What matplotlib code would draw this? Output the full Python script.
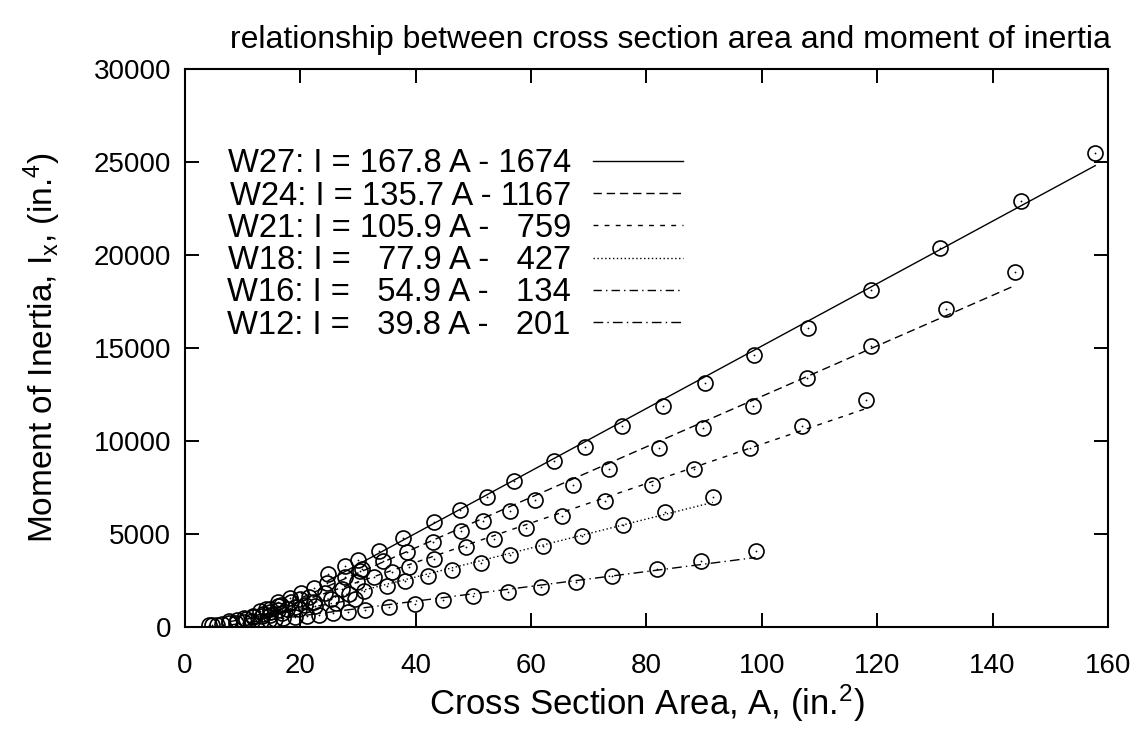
import matplotlib
matplotlib.use('Agg')
import matplotlib.pyplot as plt
from matplotlib.lines import Line2D

plt.rcParams['font.family'] = ['Liberation Sans', 'DejaVu Sans']
plt.rcParams['mathtext.default'] = 'regular'

# --- data: cross section area A (in.^2) and moment of inertia Ix (in.^4) ---
w27_A = [157.8, 144.9, 130.9, 119.0, 108.0, 98.7, 90.2, 82.8, 75.7, 69.4, 63.9, 57.1, 52.3, 47.6, 43.2, 37.8, 33.6, 30.0, 27.7, 24.8]
w27_I = [25500, 22900, 20400, 18100, 16100, 14600, 13100, 11900, 10800, 9700, 8900, 7860, 7000, 6280, 5630, 4760, 4080, 3620, 3270, 2850]

w24_A = [143.8, 131.9, 119.0, 107.9, 98.4, 89.8, 82.1, 73.5, 67.2, 60.7, 56.3, 51.7, 47.8, 43.0, 38.5, 34.4, 30.6, 30.3, 27.7, 24.7, 22.4, 20.1, 18.2, 16.2]
w24_I = [19100, 17100, 15100, 13400, 11900, 10700, 9600, 8490, 7650, 6820, 6260, 5680, 5170, 4580, 4020, 3540, 3100, 3000, 2700, 2370, 2100, 1830, 1550, 1350]

w21_A = [118.0, 106.9, 97.9, 88.2, 80.9, 72.8, 65.4, 59.2, 53.6, 48.8, 43.2, 38.8, 35.9, 32.7, 29.8, 27.3, 24.3, 21.5, 20.0, 18.3, 16.7, 16.2, 14.7, 14.1, 13.0]
w21_I = [12200, 10800, 9610, 8480, 7620, 6760, 5950, 5310, 4730, 4280, 3630, 3220, 2960, 2670, 2420, 2070, 1830, 1600, 1480, 1330, 1170, 1140, 984, 959, 843]

w18_A = [91.5, 83.2, 75.9, 68.8, 62.1, 56.4, 51.3, 46.3, 42.1, 38.2, 35.1, 31.1, 28.5, 25.3, 22.3, 20.8, 19.1, 17.6, 16.2, 14.7, 13.5, 11.8, 10.3]
w18_I = [6970, 6170, 5510, 4900, 4330, 3870, 3450, 3060, 2750, 2460, 2190, 1910, 1750, 1530, 1330, 1170, 1070, 984, 890, 800, 712, 612, 510]

w16_A = [29.4, 26.2, 22.6, 19.7, 16.8, 14.7, 13.3, 11.8, 10.6, 9.1, 7.7]
w16_I = [1490, 1300, 1110, 954, 758, 659, 586, 518, 448, 375, 301]

w12_A = [98.9, 89.5, 81.9, 74.1, 67.7, 61.8, 56.0, 50.0, 44.7, 39.9, 35.3, 31.2, 28.2, 25.6, 23.2, 21.1, 19.1, 17.0, 15.6, 14.6, 13.1, 11.7, 10.3, 8.8, 7.7, 6.5, 5.6, 4.7, 4.2]
w12_I = [4060, 3550, 3110, 2720, 2420, 2140, 1890, 1650, 1430, 1240, 1070, 933, 833, 740, 662, 597, 533, 475, 425, 391, 348, 307, 285, 238, 204, 156, 130, 103, 89]

# linear fits I = a*A - b, from the legend
fit_a = [167.8, 135.7, 105.9, 77.9, 54.9, 39.8]
fit_b = [1674, 1167, 759, 427, 134, 201]
fit_labels = ['W27: I = 167.8 A - 1674',
              'W24: I = 135.7 A - 1167',
              'W21: I = 105.9 A -   759',
              'W18: I =   77.9 A -   427',
              'W16: I =   54.9 A -   134',
              'W12: I =   39.8 A -   201']

series = [(w27_A, w27_I), (w24_A, w24_I), (w21_A, w21_I),
          (w18_A, w18_I), (w16_A, w16_I), (w12_A, w12_I)]
styles = ['-', (0, (6, 3.5)), (0, (3.5, 4.5)), (0, (1, 1.8)),
          (0, (6, 3, 1, 3)), (0, (7, 3, 1, 3))]

fig = plt.figure(figsize=(11.44, 7.33), dpi=100)
ax = fig.add_axes([0.1617, 0.1446, 0.8068, 0.7613])

handles = []
for a, b, (A, I), ls in zip(fit_a, fit_b, series, styles):
    lo, hi = min(A), max(A)
    ax.plot([lo, hi], [a * lo - b, a * hi - b], color='black', lw=1.0, linestyle=ls)
    ax.plot(A, I, 'o', mfc='none', mec='black', ms=10.8, mew=1.2)
    ax.plot(A, I, 'o', color='black', ms=1.3, mew=0)
    handles.append(Line2D([], [], color='black', lw=1.0, linestyle=ls))

ax.legend(handles, fit_labels, loc='upper left', bbox_to_anchor=(0.0455, 0.858), frameon=False,
          markerfirst=False, fontsize=23.6, handlelength=2.75, handletextpad=0.67,
          labelspacing=0.04, borderaxespad=0, borderpad=0)

ax.set_xlim(0, 160)
ax.set_ylim(0, 30000)
ax.set_xticks(range(0, 161, 20))
ax.set_yticks(range(0, 30001, 5000))
ax.tick_params(direction='in', length=10, width=1.4, top=True, right=True, labelsize=20)
ax.tick_params(axis='x', pad=19)
ax.tick_params(axis='y', pad=10)
for s in ax.spines.values():
    s.set_linewidth(1.5)

ax.set_xlabel('Cross Section Area, A, (in.$^2$)', fontsize=25, labelpad=2)
ax.set_ylabel('Moment of Inertia, I$_x$, (in.$^4$)', fontsize=24, labelpad=22)
fig.text(670 / 1144, 1 - 40 / 733, 'relationship between cross section area and moment of inertia',
         ha='center', va='center', fontsize=23)

fig.savefig('out.png', dpi=100)
